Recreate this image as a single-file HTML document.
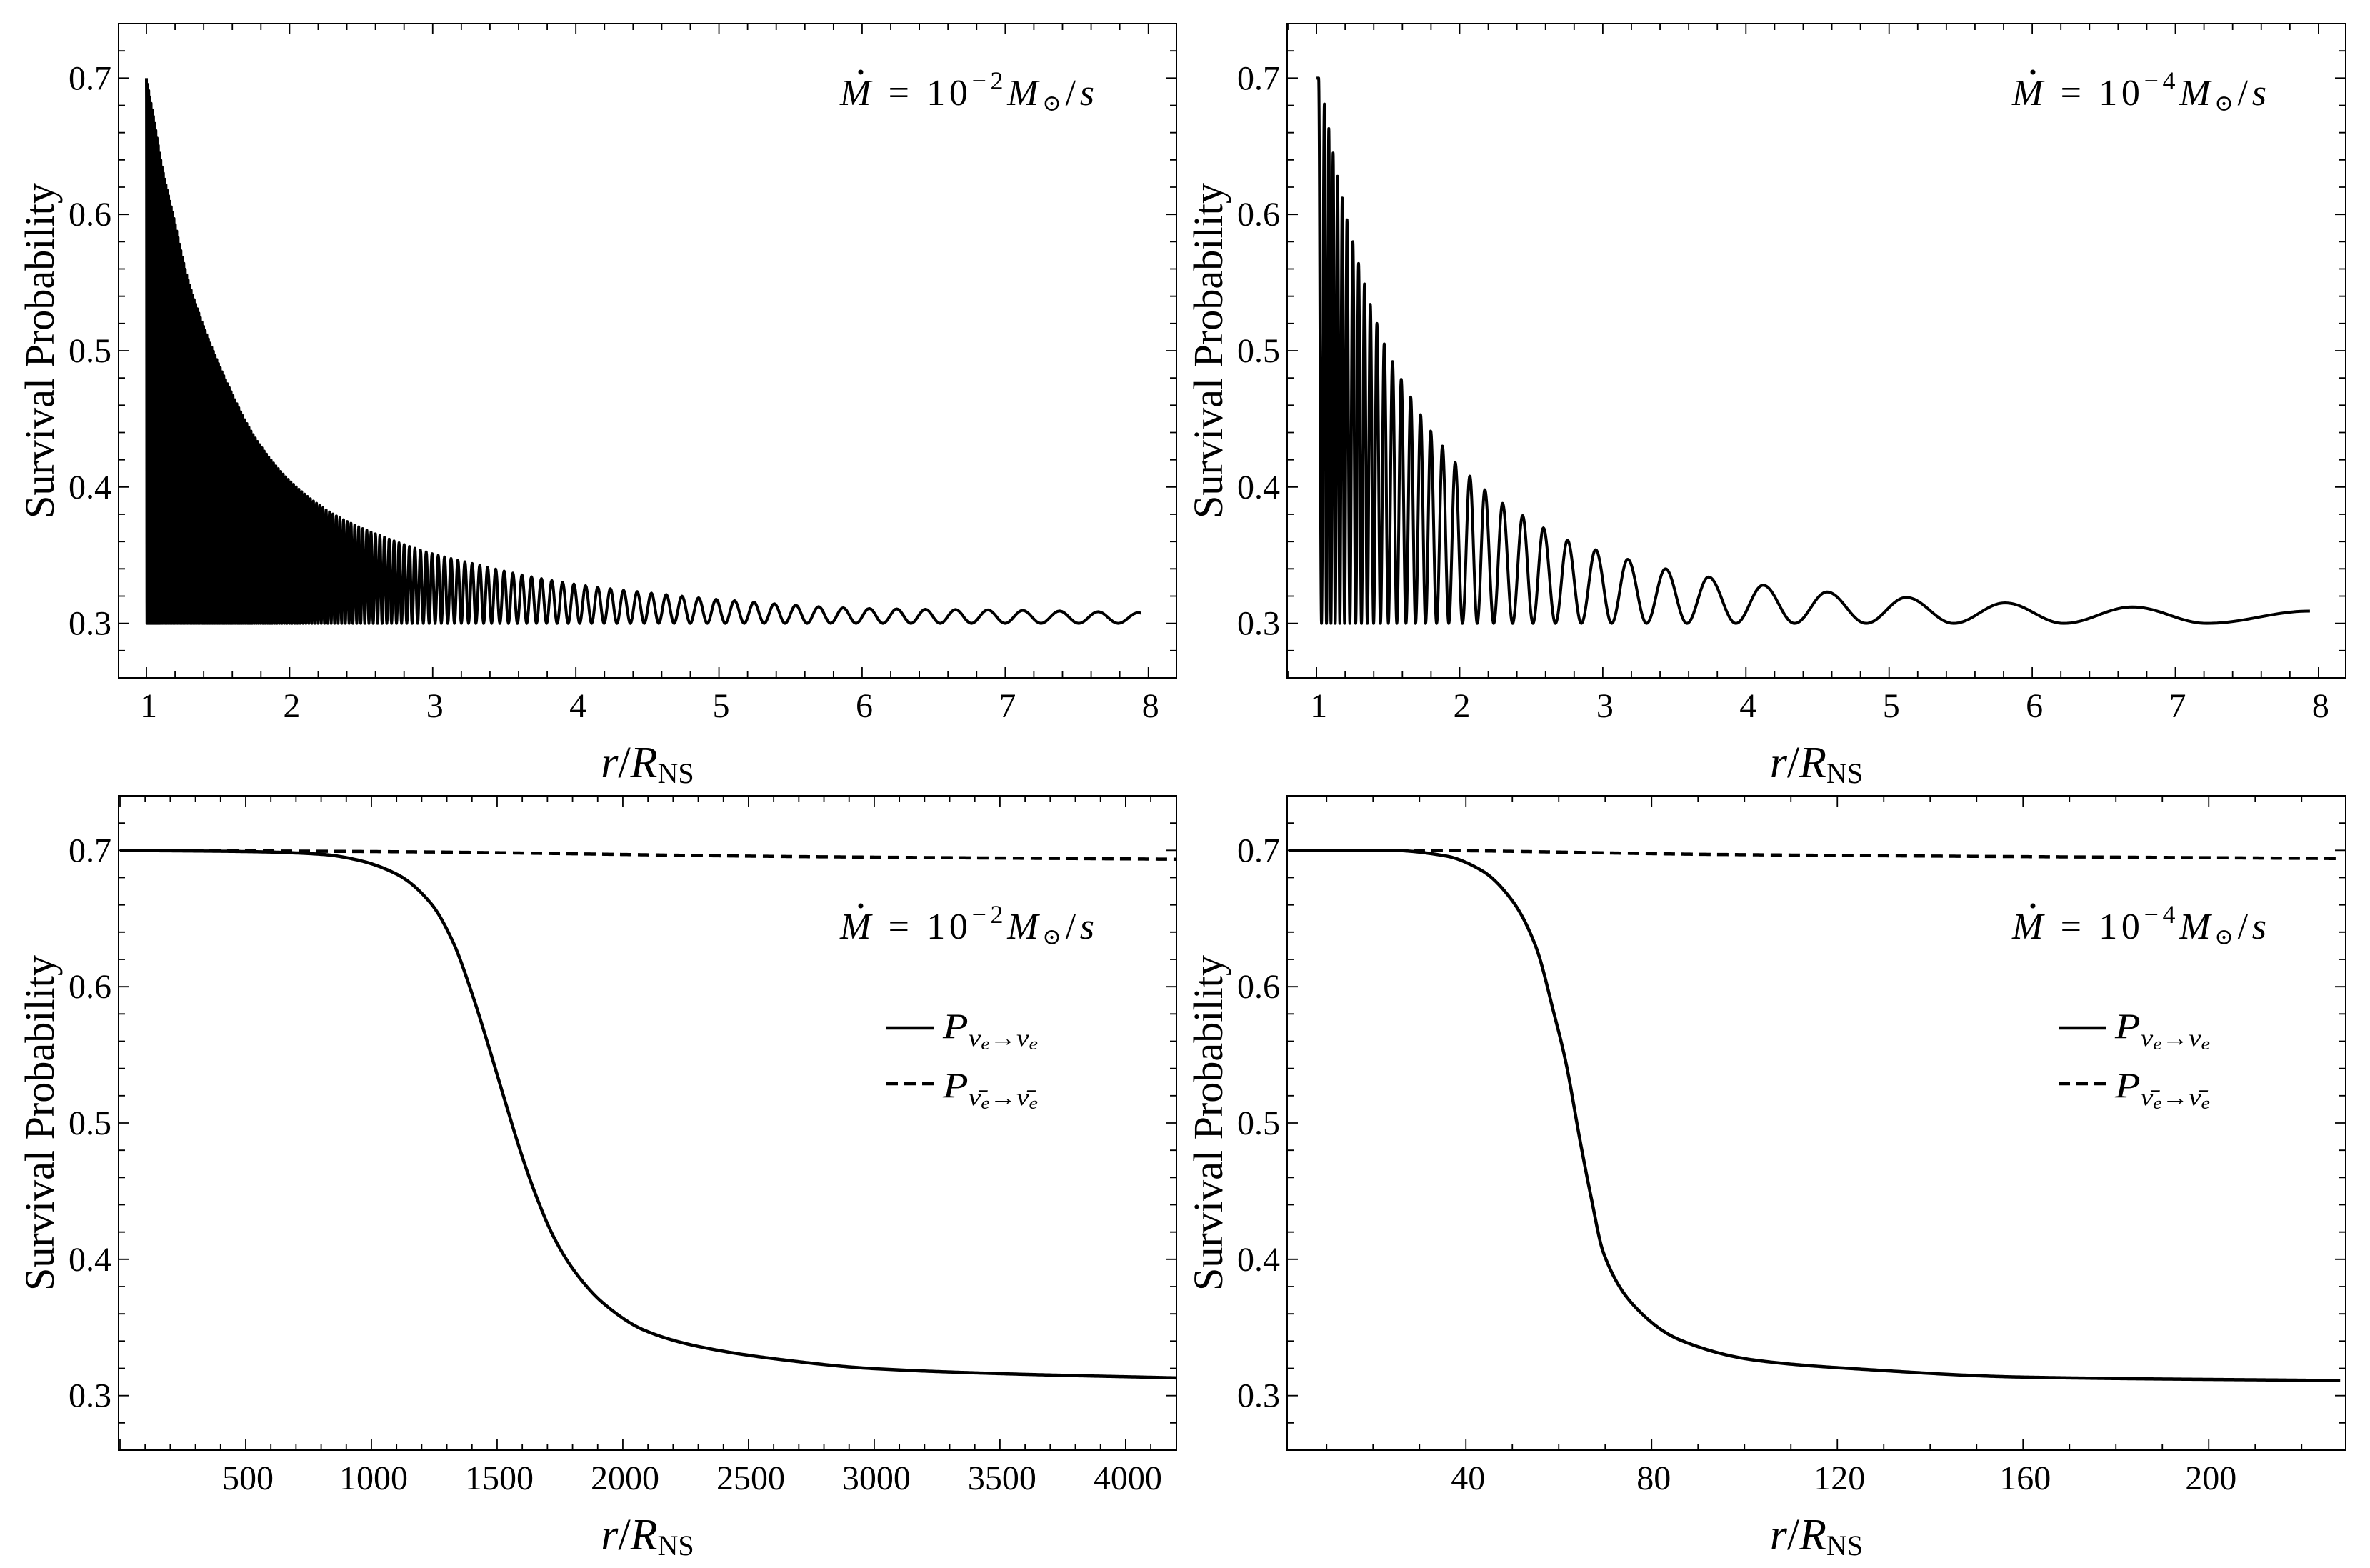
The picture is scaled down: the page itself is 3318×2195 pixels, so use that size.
<!DOCTYPE html>
<html><head><meta charset="utf-8">
<style>
html,body{margin:0;padding:0;background:#fff;}
svg, svg text{font-family:"Liberation Serif","DejaVu Serif",serif;}
</style></head>
<body>
<svg id="fig" width="3318" height="2190" viewBox="0 0 3318 2190" xmlns="http://www.w3.org/2000/svg" font-family="'Liberation Serif', 'DejaVu Serif', serif">
<rect x="0" y="0" width="3318" height="2190" fill="#fff"/>
<g id="layer"></g>

<!-- annotations -->
<g>
<circle cx="1205" cy="101" r="3.5" fill="#000"/>
<text x="1176" y="147" font-size="52" textLength="356" lengthAdjust="spacing"><tspan font-style="italic">M</tspan> = 10<tspan font-size="36" dy="-22">−2</tspan><tspan font-style="italic" dy="22">M</tspan><tspan font-size="32" dy="8">⊙</tspan><tspan dy="-8">/</tspan><tspan font-style="italic">s</tspan></text>
</g>
<g>
<circle cx="2846" cy="101" r="3.5" fill="#000"/>
<text x="2817" y="147" font-size="52" textLength="356" lengthAdjust="spacing"><tspan font-style="italic">M</tspan> = 10<tspan font-size="36" dy="-22">−4</tspan><tspan font-style="italic" dy="22">M</tspan><tspan font-size="32" dy="8">⊙</tspan><tspan dy="-8">/</tspan><tspan font-style="italic">s</tspan></text>
</g>
<g>
<circle cx="1205" cy="1268" r="3.5" fill="#000"/>
<text x="1176" y="1314" font-size="52" textLength="356" lengthAdjust="spacing"><tspan font-style="italic">M</tspan> = 10<tspan font-size="36" dy="-22">−2</tspan><tspan font-style="italic" dy="22">M</tspan><tspan font-size="32" dy="8">⊙</tspan><tspan dy="-8">/</tspan><tspan font-style="italic">s</tspan></text>
</g>
<g>
<circle cx="2846" cy="1268" r="3.5" fill="#000"/>
<text x="2817" y="1314" font-size="52" textLength="356" lengthAdjust="spacing"><tspan font-style="italic">M</tspan> = 10<tspan font-size="36" dy="-22">−4</tspan><tspan font-style="italic" dy="22">M</tspan><tspan font-size="32" dy="8">⊙</tspan><tspan dy="-8">/</tspan><tspan font-style="italic">s</tspan></text>
</g>

<!-- legends -->
<g>
<g>
<line x1="1241" y1="1439" x2="1307" y2="1439" stroke="#000" stroke-width="4.5"/>
<text x="1320" y="1453" font-size="50" textLength="133" lengthAdjust="spacingAndGlyphs"><tspan font-style="italic">P</tspan><tspan font-size="34" dy="11" font-style="italic">ν</tspan><tspan font-size="24" dy="5" font-style="italic">e</tspan><tspan font-size="32" dy="-5">→</tspan><tspan font-size="34" font-style="italic">ν</tspan><tspan font-size="24" dy="5" font-style="italic">e</tspan></text>
</g>
<g>
<line x1="1241" y1="1517" x2="1307" y2="1517" stroke="#000" stroke-width="4.5" stroke-dasharray="16,9"/>
<text x="1320" y="1536" font-size="50" textLength="133" lengthAdjust="spacingAndGlyphs"><tspan font-style="italic">P</tspan><tspan font-size="34" dy="11" font-style="italic">ν̄</tspan><tspan font-size="24" dy="5" font-style="italic">e</tspan><tspan font-size="32" dy="-5">→</tspan><tspan font-size="34" font-style="italic">ν̄</tspan><tspan font-size="24" dy="5" font-style="italic">e</tspan></text>
</g>
</g>
<g>
<g>
<line x1="2882" y1="1439" x2="2948" y2="1439" stroke="#000" stroke-width="4.5"/>
<text x="2961" y="1453" font-size="50" textLength="133" lengthAdjust="spacingAndGlyphs"><tspan font-style="italic">P</tspan><tspan font-size="34" dy="11" font-style="italic">ν</tspan><tspan font-size="24" dy="5" font-style="italic">e</tspan><tspan font-size="32" dy="-5">→</tspan><tspan font-size="34" font-style="italic">ν</tspan><tspan font-size="24" dy="5" font-style="italic">e</tspan></text>
</g>
<g>
<line x1="2882" y1="1517" x2="2948" y2="1517" stroke="#000" stroke-width="4.5" stroke-dasharray="16,9"/>
<text x="2961" y="1536" font-size="50" textLength="133" lengthAdjust="spacingAndGlyphs"><tspan font-style="italic">P</tspan><tspan font-size="34" dy="11" font-style="italic">ν̄</tspan><tspan font-size="24" dy="5" font-style="italic">e</tspan><tspan font-size="32" dy="-5">→</tspan><tspan font-size="34" font-style="italic">ν̄</tspan><tspan font-size="24" dy="5" font-style="italic">e</tspan></text>
</g>
</g>
</svg>

<script>
// ---------- data ----------
const tlEnvX = [1, 1.053, 1.11, 1.187, 1.283, 1.378, 1.474, 1.569, 1.76, 1.951, 2.143, 2.33, 2.715, 3.0, 3.288, 3.6, 4.04, 4.5, 5.06, 6.0, 7.0, 7.8, 7.95];
const tlEnvY = [0.70, 0.6696, 0.6346, 0.5995, 0.555, 0.524, 0.498, 0.475, 0.436, 0.410, 0.3916, 0.3786, 0.361, 0.351, 0.3436, 0.336, 0.328, 0.3225, 0.317, 0.311, 0.3097, 0.3082, 0.3078];
const tlPerX = [1, 1.5, 2, 2.5, 3, 3.5, 4, 4.5, 5, 5.5, 6, 6.5, 7, 7.5, 8];
const tlPer  = [0.008, 0.012, 0.018, 0.028, 0.042, 0.06, 0.081, 0.1, 0.127, 0.152, 0.186, 0.207, 0.245, 0.27, 0.29];
const tlXEnd = 7.95;

const trStart = [1.0, 0.70];
const trPeakX = [1.015,1.055,1.086,1.116,1.147,1.18,1.213,1.254,1.294,1.335,1.376,1.422,1.473,1.531,1.592,1.658,1.727,1.798,1.88,1.969,2.071,2.176,2.30,2.44,2.585,2.753,2.95,3.174,3.438,3.739,4.12,4.566,5.12,5.81,6.70];
const trPeakY = [0.70,0.681,0.663,0.645,0.628,0.612,0.596,0.580,0.564,0.549,0.534,0.520,0.505,0.492,0.479,0.466,0.453,0.441,0.430,0.418,0.408,0.398,0.388,0.379,0.370,0.361,0.354,0.347,0.340,0.334,0.328,0.323,0.319,0.315,0.312];
const trTroughX = [1.035,1.07,1.101,1.131,1.163,1.196,1.233,1.274,1.314,1.355,1.399,1.447,1.502,1.561,1.625,1.692,1.762,1.839,1.924,2.02,2.123,2.238,2.37,2.512,2.669,2.85,3.062,3.306,3.588,3.93,4.34,4.84,5.45,6.22,7.22];
const trTroughY = [0.3,0.3,0.3,0.3,0.3,0.3,0.3,0.3,0.3,0.3,0.3,0.3,0.3,0.3,0.3,0.3,0.3,0.3,0.3,0.3,0.3,0.3,0.3,0.3,0.3,0.3,0.3,0.3,0.3,0.3,0.3,0.3,0.3,0.3,0.3];
const trEnd = [7.94, 0.309];

const blSolidX = [0, 537, 808, 943, 1106, 1237, 1324, 1400, 1465, 1530, 1595, 1650, 1726, 1813, 1921, 2085, 2302, 2648, 2979, 3522, 4200];
const blSolidY = [0.70, 0.699, 0.697, 0.693, 0.682, 0.661, 0.633, 0.595, 0.557, 0.517, 0.478, 0.449, 0.416, 0.390, 0.368, 0.348, 0.336, 0.326, 0.320, 0.316, 0.313];
const blDashX = [0, 600, 1100, 2648, 4200];
const blDashY = [0.700, 0.6995, 0.699, 0.6955, 0.6935];

const brSolidX = [1.8, 23.8, 35.5, 43.5, 50, 55, 59, 61.5, 64.7, 67, 69.6, 76.2, 86, 102.3, 127, 159.5, 228.3];
const brSolidY = [0.700, 0.700, 0.696, 0.685, 0.663, 0.630, 0.580, 0.545, 0.485, 0.445, 0.405, 0.366, 0.341, 0.326, 0.319, 0.3136, 0.311];
const brDashX = [1.8, 25, 94, 228.3];
const brDashY = [0.700, 0.700, 0.697, 0.694];

const yTickVals = [0.3, 0.4, 0.5, 0.6, 0.7];
const yTickLabels = ["0.3", "0.4", "0.5", "0.6", "0.7"];
const topXTicks = [1, 2, 3, 4, 5, 6, 7, 8];
const topXLabels = ["1", "2", "3", "4", "5", "6", "7", "8"];
const blXTicks = [500, 1000, 1500, 2000, 2500, 3000, 3500, 4000];
const blXLabels = ["500", "1000", "1500", "2000", "2500", "3000", "3500", "4000"];
const brXTicks = [40, 80, 120, 160, 200];
const brXLabels = ["40", "80", "120", "160", "200"];

// ---------- rendering ----------
const NS = "http://www.w3.org/2000/svg";
const FONT = "'Liberation Serif', 'DejaVu Serif', serif";
const layer = document.getElementById("layer");
function mk(tag, attrs, parent) {
  const e = document.createElementNS(NS, tag);
  for (const k in attrs) e.setAttribute(k, attrs[k]);
  (parent || layer).appendChild(e);
  return e;
}
function panel(p) {
  p.sx = v => p.x0 + (v - p.xmin) / (p.xmax - p.xmin) * (p.x1 - p.x0);
  p.sy = v => p.y1 - (v - p.ymin) / (p.ymax - p.ymin) * (p.y1 - p.y0);
  return p;
}
const panels = {
  tl: panel({x0:166, x1:1647, y0:33, y1:949, xmin:0.8054, xmax:8.196, ymin:0.26, ymax:0.74}),
  tr: panel({x0:1802, x1:3284, y0:33, y1:949, xmin:0.795, xmax:8.19, ymin:0.26, ymax:0.74}),
  bl: panel({x0:166, x1:1647, y0:1114, y1:2030, xmin:-5.7, xmax:4202, ymin:0.26, ymax:0.74}),
  br: panel({x0:1802, x1:3284, y0:1114, y1:2030, xmin:1.5, xmax:229.5, ymin:0.26, ymax:0.74})
};

function drawAxes(name, p, xMajor, xLabels, xMinorStep) {
  const g = mk("g", {});
  
  
  let d = "";
  const Ma = 15, Mi = 9;
  for (let k = 13; k <= 37; k++) {
    const v = k * 0.02;
    if (v < p.ymin - 1e-9 || v > p.ymax + 1e-9) continue;
    const y = p.sy(v);
    const L = (k % 5 === 0) ? Ma : Mi;
    d += `M${p.x0} ${y}h${L}M${p.x1} ${y}h${-L}`;
  }
  const step = xMajor[1] - xMajor[0];
  const start = Math.ceil(p.xmin / xMinorStep);
  for (let k = start; k * xMinorStep <= p.xmax; k++) {
    const v = k * xMinorStep;
    const x = p.sx(v);
    if (x < p.x0 + 1 || x > p.x1 - 1) continue;
    const major = Math.abs(v / step - Math.round(v / step)) < 1e-6;
    const L = major ? Ma : Mi;
    d += `M${x} ${p.y1}v${-L}M${x} ${p.y0}v${L}`;
  }
  const ticks = mk("path", {d: d, stroke: "#000", "stroke-width": 1.8, fill: "none"}, g);
  
  
  const frame = mk("rect", {x: p.x0, y: p.y0, width: p.x1 - p.x0, height: p.y1 - p.y0, fill: "none", stroke: "#000", "stroke-width": 2}, g);
  
  
  yTickVals.forEach((v, i) => {
    const t = mk("text", {x: p.x0 - 10, y: p.sy(v) + 16, "font-size": 48, "text-anchor": "end", "font-family": FONT}, g);
    
    
    t.textContent = yTickLabels[i];
  });
  xMajor.forEach((v, i) => {
    const t = mk("text", {x: p.sx(v) + 3, y: p.y1 + 55, "font-size": 48, "text-anchor": "middle", "font-family": FONT}, g);
    
    
    t.textContent = xLabels[i];
  });
  const cx = (p.x0 + p.x1) / 2;
  const xt = mk("text", {x: cx, y: p.y1 + 139, "font-size": 62, "text-anchor": "middle", "font-family": FONT}, g);
  
  
  xt.innerHTML = '<tspan font-style="italic">r</tspan>/<tspan font-style="italic">R</tspan><tspan font-size="40" dy="8">NS</tspan>';
  const cy = (p.y0 + p.y1) / 2;
  const ytx = p.x0 - 91;
  const yt = mk("text", {transform: `translate(${ytx},${cy}) rotate(-90)`, "font-size": 58, "text-anchor": "middle", textLength: 470, lengthAdjust: "spacingAndGlyphs", "font-family": FONT}, g);
  
  
  yt.textContent = "Survival Probability";
}

drawAxes("top-left", panels.tl, topXTicks, topXLabels, 0.2);
drawAxes("top-right", panels.tr, topXTicks, topXLabels, 0.2);
drawAxes("bottom-left", panels.bl, blXTicks, blXLabels, 100);
drawAxes("bottom-right", panels.br, brXTicks, brXLabels, 10);

function lin(xs, ys, x) {
  if (x <= xs[0]) return ys[0];
  for (let i = 1; i < xs.length; i++) {
    if (x <= xs[i]) { const t = (x - xs[i-1]) / (xs[i] - xs[i-1]); return ys[i-1] + t * (ys[i] - ys[i-1]); }
  }
  return ys[ys.length - 1];
}
function pchip(xs, ys) {
  const n = xs.length, h = [], dl = [], m = new Array(n);
  for (let i = 0; i < n - 1; i++) { h[i] = xs[i+1] - xs[i]; dl[i] = (ys[i+1] - ys[i]) / h[i]; }
  m[0] = dl[0]; m[n-1] = dl[n-2];
  for (let i = 1; i < n - 1; i++) {
    if (dl[i-1] * dl[i] <= 0) m[i] = 0;
    else { const w1 = 2*h[i] + h[i-1], w2 = h[i] + 2*h[i-1]; m[i] = (w1 + w2) / (w1/dl[i-1] + w2/dl[i]); }
  }
  return function(x) {
    if (x <= xs[0]) return ys[0];
    if (x >= xs[n-1]) return ys[n-1];
    let i = 0; while (i < n - 2 && x > xs[i+1]) i++;
    const t = (x - xs[i]) / h[i], t2 = t*t, t3 = t2*t;
    return (2*t3-3*t2+1)*ys[i] + (t3-2*t2+t)*h[i]*m[i] + (-2*t3+3*t2)*ys[i+1] + (t3-t2)*h[i]*m[i+1];
  };
}

const clip = (name, p) => {
  const cp = mk("clipPath", {id: "clip-" + name});
  mk("rect", {x: p.x0, y: p.y0, width: p.x1 - p.x0, height: p.y1 - p.y0}, cp);
};
Object.keys(panels).forEach(k => clip(k, panels[k]));

(function() {
  const p = panels.tl;
  const envF = pchip(tlEnvX, tlEnvY);
  let x = 1, ph = 0, pts = [];
  while (x <= tlXEnd) {
    const env = envF(x);
    const v = 0.3 + (env - 0.3) * (1 + Math.cos(2 * Math.PI * ph)) / 2;
    pts.push(p.sx(x).toFixed(2) + "," + p.sy(v).toFixed(2));
    const per = lin(tlPerX, tlPer, x);
    const dx = per / 16;
    x += dx; ph += dx / per;
  }
  const path = mk("path", {d: "M" + pts.join("L"), fill: "none", stroke: "#000", "stroke-width": 4, "stroke-linejoin": "round", "clip-path": "url(#clip-tl)"});
  
  
})();

(function() {
  const p = panels.tr;
  const ex = [trStart];
  for (let i = 0; i < trPeakX.length; i++) { ex.push([trPeakX[i], trPeakY[i]]); ex.push([trTroughX[i], trTroughY[i]]); }
  ex.push(trEnd);
  const pts = [p.sx(ex[0][0]).toFixed(2) + "," + p.sy(ex[0][1]).toFixed(2)];
  for (let i = 1; i < ex.length; i++) {
    const [xa, ya] = ex[i-1], [xb, yb] = ex[i];
    for (let s = 1; s <= 20; s++) {
      const t = s / 20, e = (1 - Math.cos(Math.PI * t)) / 2;
      pts.push(p.sx(xa + (xb - xa) * t).toFixed(2) + "," + p.sy(ya + (yb - ya) * e).toFixed(2));
    }
  }
  const path = mk("path", {d: "M" + pts.join("L"), fill: "none", stroke: "#000", "stroke-width": 4, "stroke-linejoin": "round", "clip-path": "url(#clip-tr)"});
  
  
})();

function smoothLine(pkey, xs, ys, dashed, nm) {
  const p = panels[pkey], f = pchip(xs, ys);
  const pts = [], N = 600;
  for (let i = 0; i <= N; i++) {
    const x = xs[0] + (xs[xs.length-1] - xs[0]) * i / N;
    pts.push(p.sx(x).toFixed(2) + "," + p.sy(f(x)).toFixed(2));
  }
  const attrs = {d: "M" + pts.join("L"), fill: "none", stroke: "#000", "stroke-width": 4.5, "stroke-linejoin": "round", "clip-path": "url(#clip-" + pkey + ")"};
  if (dashed) attrs["stroke-dasharray"] = "16,9";
  const path = mk("path", attrs);
  
  
}
smoothLine("bl", blDashX, blDashY, true, "series-antineutrino-mdot-1e-2");
smoothLine("bl", blSolidX, blSolidY, false, "series-neutrino-mdot-1e-2");
smoothLine("br", brDashX, brDashY, true, "series-antineutrino-mdot-1e-4");
smoothLine("br", brSolidX, brSolidY, false, "series-neutrino-mdot-1e-4");
</script>
</body></html>
